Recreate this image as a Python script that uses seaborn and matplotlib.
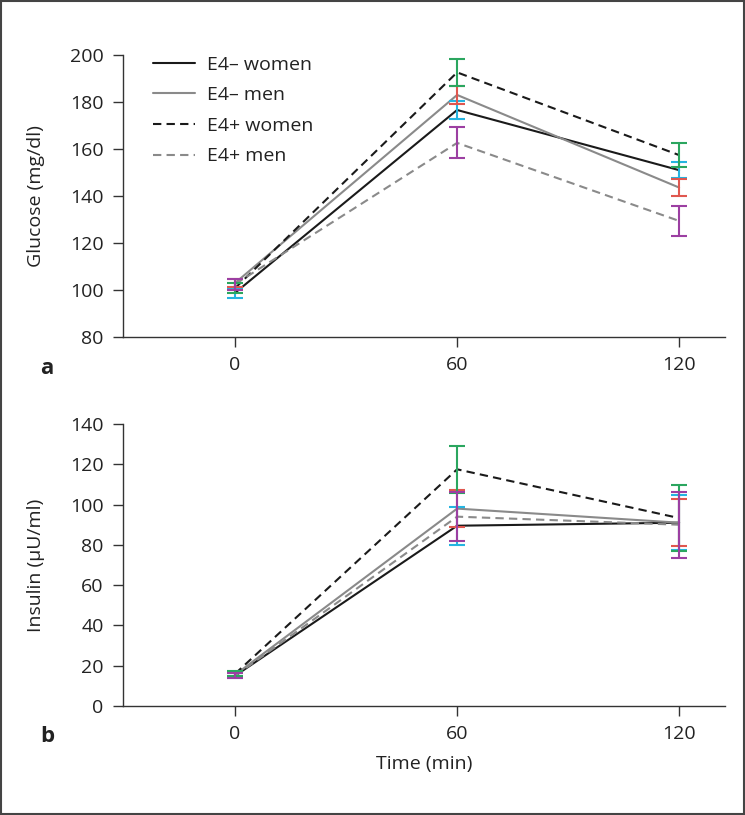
import numpy as np
import pandas as pd
import matplotlib
matplotlib.use("Agg")
import matplotlib.pyplot as plt
import seaborn as sns
from matplotlib.patches import Rectangle

# data
times = [0, 60, 120]
groups = ["E4\u2013 women", "E4\u2013 men", "E4+ women", "E4+ men"]

glucose_e4neg_women = [98.8, 176.6, 151.0]
glucose_e4neg_men = [103.0, 183.0, 143.6]
glucose_e4pos_women = [100.8, 192.6, 157.4]
glucose_e4pos_men = [102.5, 162.6, 129.4]
glucose_err_e4neg_women = [2.0, 4.0, 3.4]
glucose_err_e4neg_men = [1.8, 3.8, 3.6]
glucose_err_e4pos_women = [2.0, 5.8, 5.1]
glucose_err_e4pos_men = [2.3, 6.6, 6.3]

insulin_e4neg_women = [15.0, 89.5, 91.0]
insulin_e4neg_men = [15.5, 98.0, 91.0]
insulin_e4pos_women = [16.0, 117.5, 93.3]
insulin_e4pos_men = [15.0, 94.0, 90.0]
insulin_err_e4neg_women = [1.2, 9.5, 13.8]
insulin_err_e4neg_men = [1.2, 9.2, 11.8]
insulin_err_e4pos_women = [1.3, 11.8, 16.4]
insulin_err_e4pos_men = [1.3, 12.2, 16.3]

line_colors = ["#1a1a1a", "#8a8a8a", "#1a1a1a", "#8a8a8a"]
err_colors = ["#25b4e0", "#e0574f", "#2ba65f", "#9c3fa2"]

sns.set_style("ticks")
plt.rcParams["font.family"] = ["Open Sans", "DejaVu Sans"]
plt.rcParams["font.size"] = 14


def long_table(series):
    rows = []
    for g, vals in zip(groups, series):
        for t, v in zip(times, vals):
            rows.append({"time": t, "value": v, "group": g})
    return pd.DataFrame(rows)


fig = plt.figure(figsize=(7.45, 8.15), dpi=100)
ax1 = fig.add_axes([123 / 745, 1 - 337 / 815, 602 / 745, 282 / 815])
ax2 = fig.add_axes([123 / 745, 1 - 706 / 815, 602 / 745, 282 / 815])

panels = [
    (ax1, [glucose_e4neg_women, glucose_e4neg_men, glucose_e4pos_women, glucose_e4pos_men],
     [glucose_err_e4neg_women, glucose_err_e4neg_men, glucose_err_e4pos_women, glucose_err_e4pos_men]),
    (ax2, [insulin_e4neg_women, insulin_e4neg_men, insulin_e4pos_women, insulin_e4pos_men],
     [insulin_err_e4neg_women, insulin_err_e4neg_men, insulin_err_e4pos_women, insulin_err_e4pos_men]),
]

for ax, means, errs in panels:
    df = long_table(means)
    sns.lineplot(data=df, x="time", y="value", hue="group", style="group",
                 palette=line_colors, dashes=[(None, None), (None, None), (4, 2.5), (4, 2.5)],
                 linewidth=1.5, ax=ax, legend=(ax is ax1))
    for m, e, c in zip(means, errs, err_colors):
        ax.errorbar(times, m, yerr=e, fmt="none", ecolor=c, elinewidth=1.5,
                    capsize=6, capthick=1.5, zorder=5)
    ax.set_xlim(-30.3, 132.4)
    ax.set_xticks(times)
    ax.tick_params(direction="out", length=7, width=1, colors="#333333",
                   labelsize=14, labelcolor="#222222", pad=7)
    for s in ["left", "bottom"]:
        ax.spines[s].set_color("#333333")
        ax.spines[s].set_linewidth(1.0)
    sns.despine(ax=ax)

ax1.set_ylim(80, 200)
ax1.set_yticks(range(80, 201, 20))
ax1.set_ylabel("Glucose (mg/dl)", fontsize=14, color="#222222", labelpad=18)
ax1.set_xlabel("")
leg = ax1.legend(loc="upper left", bbox_to_anchor=(0.02, 1.06), frameon=False,
                 handlelength=2.2, handletextpad=0.6, labelspacing=0.65, fontsize=14)
for t in leg.get_texts():
    t.set_color("#222222")

ax2.set_ylim(0, 140)
ax2.set_yticks(range(0, 141, 20))
ax2.set_ylabel("Insulin (\u00b5U/ml)", fontsize=14, color="#222222", labelpad=18)
ax2.set_xlabel("Time (min)", fontsize=14, color="#222222", labelpad=8)

fig.text(40 / 745, 1 - 368 / 815, "a", fontsize=16, fontweight="bold", va="center", color="#222222")
fig.text(40 / 745, 1 - 737 / 815, "b", fontsize=16, fontweight="bold", va="center", color="#222222")

fig.add_artist(Rectangle((0.001, 0.001), 0.998, 0.998, transform=fig.transFigure,
                         fill=False, edgecolor="#444444", linewidth=1.5))

fig.savefig("out.png", dpi=100)
